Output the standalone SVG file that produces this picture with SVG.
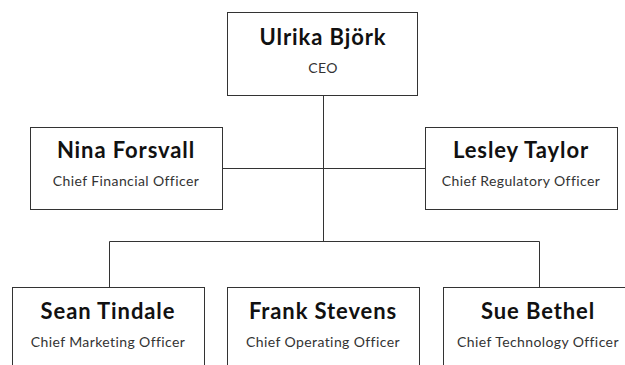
<svg xmlns="http://www.w3.org/2000/svg" width="625" height="365" viewBox="0 0 625 365">
<style>
.box{fill:#fff;stroke:#333;stroke-width:1}
.name{font-family:Lato,"Liberation Sans",sans-serif;font-weight:bold;font-size:22px;letter-spacing:0.9px;fill:#111;text-anchor:middle}
.role{font-family:Lato,"Liberation Sans",sans-serif;font-size:14px;letter-spacing:0.4px;fill:#333;text-anchor:middle}
.conn{fill:none;stroke:#333;stroke-width:1}
</style>
<rect width="625" height="365" fill="#fff"/>
<g id="connectors" class="conn">
<path d="M323.5 95V241"/>
<path d="M222 168.5H425"/>
<path d="M109.5 287V241.5H539.5V287"/>
</g>
<g id="ceo"><rect class="box" x="227.5" y="12.5" width="190" height="83"/><text class="name" x="323" y="45">Ulrika Björk</text><text class="role" x="323" y="73">CEO</text></g>
<g id="cfo"><rect class="box" x="30.5" y="127.5" width="192" height="82"/><text class="name" x="126" y="158">Nina Forsvall</text><text class="role" x="126" y="186">Chief Financial Officer</text></g>
<g id="cro"><rect class="box" x="425.5" y="127.5" width="192" height="82"/><text class="name" x="521" y="158">Lesley Taylor</text><text class="role" x="521" y="186">Chief Regulatory Officer</text></g>
<g id="cmo"><rect class="box" x="12.5" y="287.5" width="192" height="90"/><text class="name" x="108" y="319">Sean Tindale</text><text class="role" x="108" y="347">Chief Marketing Officer</text></g>
<g id="coo"><rect class="box" x="227.5" y="287.5" width="192" height="90"/><text class="name" x="323" y="319">Frank Stevens</text><text class="role" x="323" y="347">Chief Operating Officer</text></g>
<g id="cto"><rect class="box" x="443.5" y="287.5" width="192" height="90"/><text class="name" x="538" y="319">Sue Bethel</text><text class="role" x="538" y="347">Chief Technology Officer</text></g>
</svg>
